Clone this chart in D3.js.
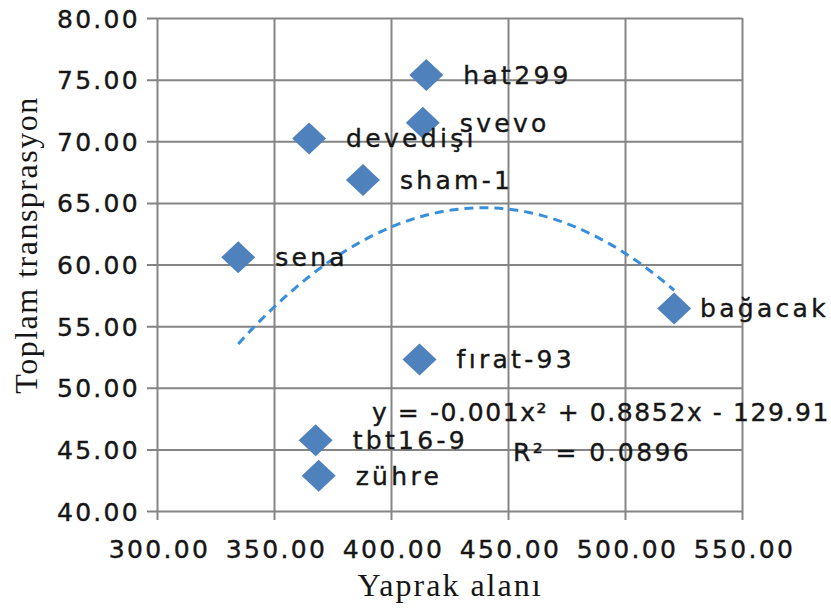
<!DOCTYPE html>
<html>
<head>
<meta charset="utf-8">
<script src="https://cdn.jsdelivr.net/npm/d3@7"></script>
<style>
  html, body { margin: 0; padding: 0; background: #fff; }
  svg { display: block; }
</style>
</head>
<body>
<svg id="chart" width="831" height="611"></svg>
<script>
// Genotypes: leaf area (x) vs total transpiration (y)
const genotypes = ["hat299", "svevo", "devedişi", "sham-1", "sena", "fırat-93", "bağacak", "tbt16-9", "zühre"];
const leafArea = [415.1, 413.6, 365.0, 388.0, 334.7, 412.2, 521.0, 367.8, 369.1];
const transpiration = [75.37, 71.5, 70.23, 66.85, 60.58, 52.3, 56.44, 45.75, 42.85];

// Polynomial (order 2) trendline coefficients and fit quality
const trendA = -0.0010071;
const trendB = 0.8852;
const trendC = -129.91;
const rSquared = 0.0896;

const xTicks = [300, 350, 400, 450, 500, 550];
const yTicks = [40, 45, 50, 55, 60, 65, 70, 75, 80];
const xTitle = "Yaprak alanı";
const yTitle = "Toplam transprasyon";

const svg = d3.select("#chart");
const W = 831, H = 611;
const plotL = 157, plotR = 742, plotT = 18, plotB = 511;

const x = d3.scaleLinear().domain([300, 550]).range([plotL, plotR]);
const y = d3.scaleLinear().domain([40, 80]).range([plotB, plotT]);
const fmt = d3.format(".2f");

const gridColor = "#858585";
const textColor = "#161616";
const tickFont = "'DejaVu Sans', Verdana, sans-serif";

// Gridlines with outward tick marks
const xAxis = d3.axisBottom(x).tickValues(xTicks).tickFormat(fmt)
  .tickSizeInner(-(plotB - plotT) - 9).tickSizeOuter(0).tickPadding(20);
const yAxis = d3.axisLeft(y).tickValues(yTicks).tickFormat(fmt)
  .tickSizeInner(-(plotR - plotL) - 10).tickSizeOuter(0).tickPadding(20);

const gx = svg.append("g").attr("transform", `translate(0,${plotB + 9})`).call(xAxis);
const gy = svg.append("g").attr("transform", `translate(${plotL - 10},0)`).call(yAxis);

[gx, gy].forEach(g => {
  g.select(".domain").remove();
  g.selectAll(".tick line").attr("stroke", gridColor).attr("stroke-width", 2);
  g.selectAll(".tick text")
    .attr("fill", textColor)
    .attr("stroke", textColor)
    .attr("stroke-width", 0.4)
    .style("font-family", tickFont)
    .style("font-size", "25px")
    .style("letter-spacing", "2.3px");
});
gx.selectAll(".tick text").attr("dy", "0.71em").attr("y", 20).attr("dx", 2);
gy.selectAll(".tick text").attr("x", -7).attr("dy", "0.36em");

// Trendline over the observed leaf-area range
const xMin = d3.min(leafArea), xMax = d3.max(leafArea);
const trendPts = d3.range(0, 101).map(i => {
  const xv = xMin + (xMax - xMin) * i / 100;
  return [xv, trendA * xv * xv + trendB * xv + trendC];
});
svg.append("path")
  .datum(trendPts)
  .attr("fill", "none")
  .attr("stroke", "#3a8fda")
  .attr("stroke-width", 3)
  .attr("stroke-dasharray", "9,6")
  .attr("d", d3.line().x(d => x(d[0])).y(d => y(d[1])));

// Diamond markers
const points = genotypes.map((g, i) => ({ name: g, lx: leafArea[i], ty: transpiration[i] }));
const hw = 17, hh = 16;
svg.append("g").selectAll("path")
  .data(points)
  .join("path")
  .attr("transform", d => `translate(${x(d.lx)},${y(d.ty)})`)
  .attr("d", `M0,${-hh}L${hw},0L0,${hh}L${-hw},0Z`)
  .attr("fill", "#4f81bd");

// Point labels to the right of each marker, kept inside the page
const labels = svg.append("g").selectAll("text")
  .data(points)
  .join("text")
  .attr("x", d => x(d.lx) + 37)
  .attr("y", d => y(d.ty))
  .attr("dy", "0.36em")
  .attr("fill", textColor)
  .attr("stroke", textColor)
  .attr("stroke-width", 0.4)
  .style("font-family", tickFont)
  .style("font-size", "25px")
  .style("letter-spacing", "3.3px")
  .text(d => d.name);
labels.each(function () {
  const bb = this.getBBox();
  const overflow = bb.x + bb.width - (W - 2);
  if (overflow > 0) d3.select(this).attr("x", +d3.select(this).attr("x") - overflow);
});

// Trendline equation and R²
const sign = v => (v < 0 ? "- " : "+ ");
const eqText = `y = ${trendA.toFixed(3)}x² ${sign(trendB)}${Math.abs(trendB).toFixed(4)}x ${sign(trendC)}${Math.abs(trendC).toFixed(2)}`;
const eq = svg.append("g")
  .attr("fill", textColor)
  .attr("stroke", textColor)
  .attr("stroke-width", 0.4)
  .style("font-family", tickFont)
  .style("font-size", "25px")
  .attr("text-anchor", "middle");
eq.append("text").attr("x", 601).attr("y", 412).attr("dy", "0.36em")
  .style("letter-spacing", "1.6px").text(eqText);
eq.append("text").attr("x", 602).attr("y", 452).attr("dy", "0.36em")
  .style("letter-spacing", "2.4px").text(`R² = ${rSquared.toFixed(4)}`);

// Axis titles
const serif = "'Liberation Serif', 'Times New Roman', serif";
svg.append("text")
  .attr("x", 450).attr("y", 596)
  .attr("text-anchor", "middle")
  .attr("fill", textColor)
  .style("font-family", serif)
  .style("font-size", "32px")
  .style("letter-spacing", "2px")
  .text(xTitle);
svg.append("text")
  .attr("transform", "translate(37,245) rotate(-90)")
  .attr("text-anchor", "middle")
  .attr("fill", textColor)
  .style("font-family", serif)
  .style("font-size", "32px")
  .style("letter-spacing", "1.5px")
  .text(yTitle);
</script>
</body>
</html>
